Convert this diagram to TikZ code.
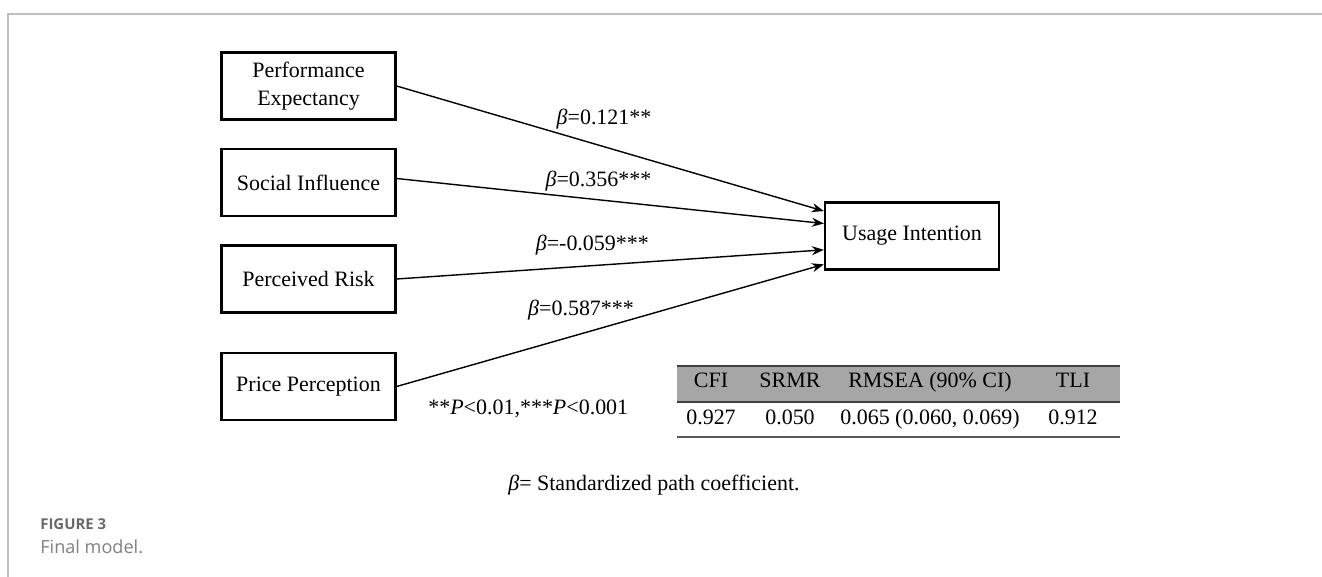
\documentclass[tikz,border=0pt]{standalone}
\usepackage{fontspec}
\setmainfont{Liberation Serif}
\newfontfamily\capfont{Open Sans}
\usetikzlibrary{arrows.meta}
\usetikzlibrary{calc,positioning}

\definecolor{tablegray}{RGB}{166,166,166}
\definecolor{framegray}{RGB}{190,190,190}
\definecolor{capgray}{RGB}{105,105,105}

\tikzset{
    construct/.style={draw, line width=1.3pt, minimum width=3.48cm, minimum height=1.34cm,
        align=center, font=\fontsize{12.5}{16}\selectfont},
    pathline/.style={-{Stealth[length=2.4mm,width=1.8mm]}, line width=0.8pt},
    coef/.style={font=\fontsize{12.5}{15}\selectfont, inner sep=0pt},
    tabtext/.style={font=\fontsize{12.5}{15}\selectfont, anchor=base, inner sep=0pt},
}

\begin{document}
\begin{tikzpicture}[x=0.02cm, y=-0.02cm]

    \useasboundingbox (0,0) rectangle (1322,577);

    % frame
    \draw[framegray, line width=1.1pt] (8,577) -- (8,14) -- (1322,14);

    % constructs
    \node[construct] (pe) at (308.5,86) {Performance\\Expectancy};
    \node[construct] (si) at (308.5,182.5) {Social Influence};
    \node[construct] (pr) at (308.5,279) {Perceived Risk};
    \node[construct] (pp) at (308.5,386.5) {Price Perception};
    \node[construct] (ui) at (912,236) {Usage Intention};

    % paths
    \draw[pathline] (pe.east) -- node[coef, pos=0.373, anchor=south west, yshift=0.06cm]{\textit{β}=0.121**} ($(ui.north west)!0.14!(ui.south west)$);
    \draw[pathline] ([yshift=0.08cm]si.east) -- node[coef, pos=0.347, anchor=south west, yshift=0.05cm]{\textit{β}=0.356***} ($(ui.north west)!0.32!(ui.south west)$);
    \draw[pathline] (pr.east) -- node[coef, pos=0.592, anchor=south east, yshift=0.12cm]{\textit{β}=-0.059***} ($(ui.north west)!0.70!(ui.south west)$);
    \draw[pathline] (pp.east) -- node[coef, pos=0.557, anchor=south east, yshift=-0.04cm]{\textit{β}=0.587***} ($(ui.north west)!0.91!(ui.south west)$);

    \node[coef, anchor=west] (sig) at (428,409) {**\textit{P}<0.01,***\textit{P}<0.001};

    % fit table
    \fill[tablegray] (677,366) rectangle (1120,402);
    \draw[black!75, line width=1.1pt] (677,366) -- (1120,366);
    \draw[black!75, line width=1.1pt] (677,402) -- (1120,402);
    \draw[black!65, line width=0.9pt] (677,437) -- (1120,437);

    \node[tabtext] (hcfi) at (711,388) {CFI};
    \node[tabtext] (hsrmr) at (790,388) {SRMR};
    \node[tabtext] (hrmsea) at (930,388) {RMSEA (90\% CI)};
    \node[tabtext] (htli) at (1073,388) {TLI};
    \node[tabtext] (vcfi) at (711,425) {0.927};
    \node[tabtext] (vsrmr) at (790,425) {0.050};
    \node[tabtext] (vrmsea) at (930,425) {0.065 (0.060, 0.069)};
    \node[tabtext] (vtli) at (1073,425) {0.912};

    \node[coef, anchor=west] (note) at (508,485) {\textit{β}= Standardized path coefficient.};

    % caption
    \node[anchor=west, inner sep=0pt, text=capgray, font=\capfont\bfseries\fontsize{8.5}{10}\selectfont] (fig) at (40,524) {FIGURE 3};
    \node[anchor=west, inner sep=0pt, text=capgray!85, font=\capfont\fontsize{10.3}{12}\selectfont] (cap) at (40,547) {Final model.};

\end{tikzpicture}
\end{document}
